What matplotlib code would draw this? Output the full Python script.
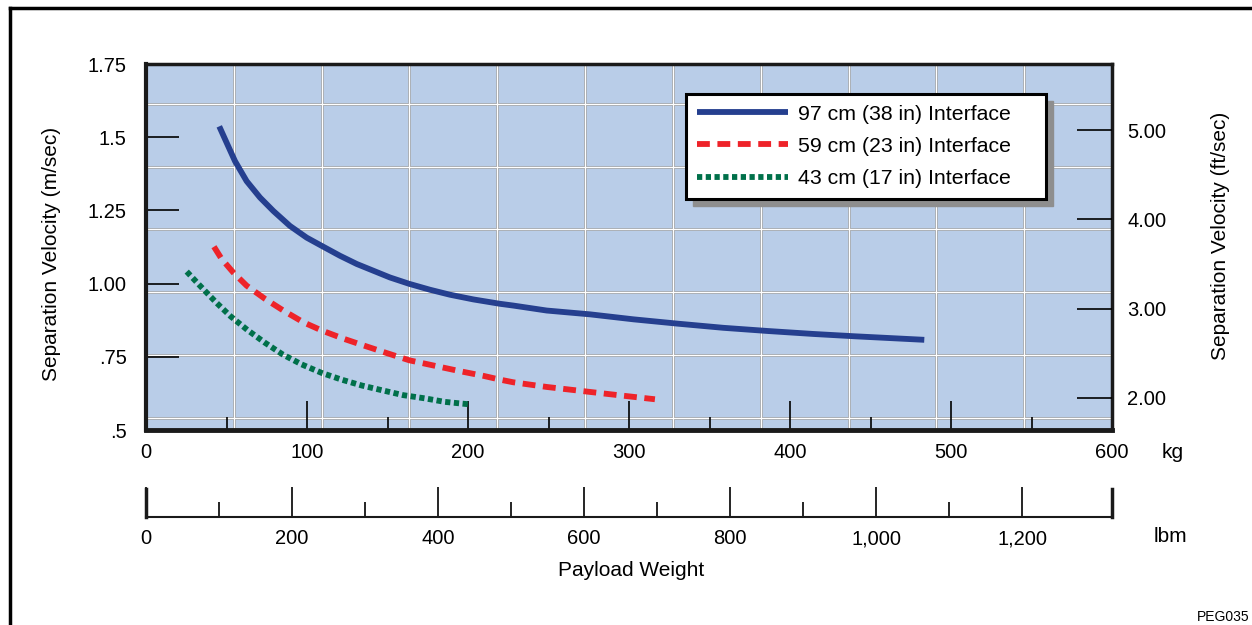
import numpy as np
import matplotlib.pyplot as plt
from matplotlib.lines import Line2D
from matplotlib.patches import Rectangle

plt.rcParams['font.family'] = ['Liberation Sans', 'DejaVu Sans']

# dados (kg, m/s)
kg_97 = [45.5, 50.1, 55.3, 62.5, 70.8, 79.1, 89.4, 99.8, 109.1, 120.5, 130.9, 141.2, 151.5,
         163.6, 176.4, 188.8, 203.3, 219.9, 228.1, 248.9, 275.8, 302.7, 330.6, 358.6, 386.5,
         414.5, 440.4, 483.4]
v_97 = [1.537, 1.481, 1.418, 1.350, 1.294, 1.248, 1.197, 1.157, 1.129, 1.095, 1.067, 1.044, 1.021,
        0.999, 0.979, 0.962, 0.946, 0.931, 0.925, 0.908, 0.895, 0.878, 0.863, 0.849, 0.838,
        0.828, 0.820, 0.808]

kg_59 = [42.2, 47.0, 54.2, 62.5, 73.9, 85.3, 97.7, 109.1, 122.6, 135.0, 150.5, 163.6, 180.5,
         194.0, 209.5, 219.9, 228.1, 248.9, 275.8, 296.5, 316.1]
v_59 = [1.126, 1.084, 1.038, 0.993, 0.948, 0.908, 0.868, 0.840, 0.812, 0.789, 0.761, 0.738, 0.718,
        0.702, 0.685, 0.672, 0.663, 0.647, 0.630, 0.617, 0.605]

kg_43 = [25.3, 33.5, 43.5, 52.6, 62.9, 73.9, 84.9, 96.7, 109.1, 121.5, 134.0, 146.4, 159.8,
         173.3, 185.7, 200.2]
v_43 = [1.041, 0.993, 0.936, 0.888, 0.842, 0.798, 0.758, 0.724, 0.695, 0.672, 0.652, 0.636, 0.619,
        0.608, 0.596, 0.588]

labels = ['97 cm (38 in) Interface', '59 cm (23 in) Interface', '43 cm (17 in) Interface']

y_ticks = [0.5, 0.75, 1.0, 1.25, 1.5, 1.75]
y_ticklabels = ['.5', '.75', '1.00', '1.25', '1.5', '1.75']
fts_ticks = [2, 3, 4, 5]
kg_ticks = [0, 100, 200, 300, 400, 500, 600]
lbm_ticks = [0, 200, 400, 600, 800, 1000, 1200]

KG_TO_LB = 2.20462
FT = 0.3048

W, H = 1252, 625
fig = plt.figure(figsize=(W / 100, H / 100), dpi=100)

def rect(l, t, r, b):
    return [l / W, 1 - b / H, (r - l) / W, (b - t) / H]

ax = fig.add_axes(rect(146, 64, 1112, 430))
ax.set_facecolor('#b9cde8')
ax.set_xlim(0, 600)
ax.set_ylim(0.5, 1.75)

# grade decorativa
for x in np.linspace(0, 600, 12)[1:-1]:
    ax.axvline(x, color='#9a9a9a', lw=1.8, zorder=0.5)
    ax.axvline(x, color='white', lw=0.9, zorder=0.6)
for y in np.arange(0.542, 1.7, 0.2143):
    ax.axhline(y, color='#9a9a9a', lw=1.8, zorder=0.5)
    ax.axhline(y, color='white', lw=0.9, zorder=0.6)

l1, = ax.plot(kg_97, v_97, color='#253f8f', lw=4.2, solid_capstyle='butt', zorder=3)
l2, = ax.plot(kg_59, v_59, color='#ee2329', lw=4.2, ls=(0, (2.2, 1.3)), zorder=3)
l3, = ax.plot(kg_43, v_43, color='#00704a', lw=4.2, ls=(0, (0.9, 0.6)), zorder=3)

for s in ax.spines.values():
    s.set_linewidth(2.5)
    s.set_color('#1a1a1a')
ax.spines['bottom'].set_linewidth(3.5)
ax.spines['left'].set_linewidth(3)

ax.set_xticks(kg_ticks)
ax.set_xticks(np.arange(50, 600, 100), minor=True)
ax.tick_params(axis='x', which='major', direction='in', length=21, width=1.2, pad=9, labelsize=14.5)
ax.tick_params(axis='x', which='minor', direction='in', length=9.5, width=1.2)
ax.set_yticks(y_ticks)
ax.set_yticklabels(y_ticklabels)
ax.tick_params(axis='y', direction='in', length=24, width=1.2, pad=14, labelsize=14.5)

ax2 = ax.twinx()
ax2.set_ylim(0.5 / FT, 1.75 / FT)
ax2.set_yticks(fts_ticks)
ax2.set_yticklabels(['%.2f' % t for t in fts_ticks])
ax2.tick_params(axis='y', direction='in', length=25, width=1.2, pad=11, labelsize=14.5)
for s in ax2.spines.values():
    s.set_visible(False)

# legenda sobre o eixo twin para ficar por cima de tudo
x0 = (686 - 146) / 966
x1 = (1046 - 146) / 966
ytop = (430 - 94) / 366
leg = ax2.legend([l1, l2, l3], labels, loc='upper left', bbox_to_anchor=(x0, 0, x1 - x0, ytop),
                 mode='expand', fontsize=15.3, frameon=True, fancybox=False, handlelength=4.3,
                 borderaxespad=0, borderpad=0.5, labelspacing=0.62, handletextpad=0.45)
leg.get_frame().set_edgecolor('black')
leg.get_frame().set_linewidth(2.2)
leg.get_frame().set_facecolor('white')
leg.get_frame().set_alpha(1)
leg.set_zorder(6)

# sombra da legenda
fig.canvas.draw()
bb = leg.get_window_extent().transformed(fig.transFigure.inverted())
ax2.add_patch(Rectangle((bb.x0 + 7 / W, bb.y0 - 7 / H), bb.width, bb.height,
                        transform=fig.transFigure, color='#8e8e8e', zorder=4, clip_on=False))

# eixo em lbm
axl = fig.add_axes(rect(146, 489, 1112, 517))
axl.set_xlim(0, 600 * KG_TO_LB)
axl.set_ylim(0, 1)
axl.patch.set_visible(False)
axl.set_yticks([])
axl.spines['top'].set_visible(False)
axl.spines['bottom'].set_linewidth(1.5)
axl.spines['left'].set_linewidth(2.5)
axl.spines['right'].set_linewidth(2.5)
for s in axl.spines.values():
    s.set_color('#1a1a1a')
axl.set_xticks(lbm_ticks)
axl.set_xticklabels(['{:,}'.format(t) for t in lbm_ticks])
axl.set_xticks(np.arange(100, 1300, 200), minor=True)
axl.tick_params(axis='x', which='major', direction='in', length=21.5, width=1.2, pad=9, labelsize=14.5)
axl.tick_params(axis='x', which='minor', direction='in', length=11, width=1.2)

fig.text(1173 / W, 1 - 452 / H, 'kg', fontsize=15, ha='center', va='center')
fig.text(1170 / W, 1 - 536 / H, 'lbm', fontsize=15, ha='center', va='center')
fig.text(631 / W, 1 - 571 / H, 'Payload Weight', fontsize=15, ha='center', va='center')
fig.text(52 / W, 1 - 254 / H, 'Separation Velocity (m/sec)', fontsize=15, rotation=90,
         ha='center', va='center')
fig.text(1220 / W, 1 - 236 / H, 'Separation Velocity (ft/sec)', fontsize=15, rotation=90,
         ha='center', va='center')
fig.text(1250 / W, 1 - 617 / H, 'PEG035', fontsize=10, ha='right', va='center')

# moldura
fig.add_artist(Line2D([10 / W, 1], [1 - 8 / H] * 2, transform=fig.transFigure, color='black', lw=2.5))
fig.add_artist(Line2D([10 / W] * 2, [0, 1 - 8 / H], transform=fig.transFigure, color='black', lw=2.5))

fig.savefig('out.png', dpi=100)
